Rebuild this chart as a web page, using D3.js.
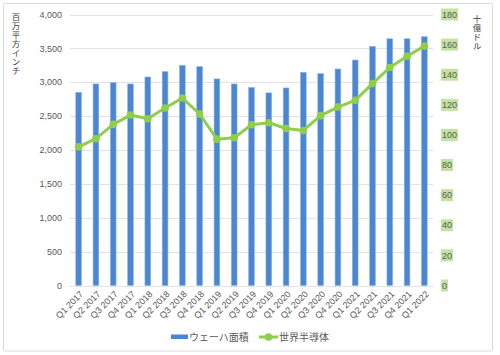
<!DOCTYPE html>
<html><head><meta charset="utf-8">
<script src="https://cdn.jsdelivr.net/npm/d3@7"></script>
<style>body{margin:0;background:#fff}svg{display:block}</style>
</head><body>
<svg id="c" width="500" height="355"></svg>
<script>
const categories = ["Q1 2017","Q2 2017","Q3 2017","Q4 2017","Q1 2018","Q2 2018","Q3 2018","Q4 2018","Q1 2019","Q2 2019","Q3 2019","Q4 2019","Q1 2020","Q2 2020","Q3 2020","Q4 2020","Q1 2021","Q2 2021","Q3 2021","Q4 2021","Q1 2022"];
const waferArea = [2850,2975,2995,2975,3078,3157,3250,3230,3049,2975,2922,2843,2916,3147,3127,3196,3328,3529,3642,3642,3672];
const semis = [92.1,97.5,107,113.2,110.8,117.9,124.5,113.9,97.2,98.1,106.8,108.1,104.3,103,112.8,118.5,123,134.1,144.8,152.3,159];
const leftTicks = [0,500,1000,1500,2000,2500,3000,3500,4000];
const rightTicks = [0,20,40,60,80,100,120,140,160,180];
const seriesNames = ["ウェーハ面積","世界半導体"];
const leftTitle = "百万平方インチ";
const rightTitle = "十億ドル";

const svg = d3.select("#c");
const font = "'Liberation Sans', Arial, sans-serif";
const jfont = "'Noto Sans CJK JP', sans-serif";
const barColor = "#4a86d2", lineColor = "#8fce4a", txt = "#595959";

svg.append("rect").attr("x",3.5).attr("y",3.5).attr("width",489).attr("height",347.5)
  .attr("fill","#fff").attr("stroke","#d9d9d9").attr("rx",2);

const x0 = 70, x1 = 433, yTop = 14.5, yBot = 285.5;
const x = d3.scaleBand().domain(categories).range([x0,x1]).paddingInner(0.67).paddingOuter(0.335);
const xc = d3.scaleBand().domain(categories).range([x0,x1]);
const yL = d3.scaleLinear().domain([0,4000]).range([yBot,yTop]);
const yR = d3.scaleLinear().domain([0,180]).range([yBot,yTop]);

// grid
svg.append("g").selectAll("line").data(leftTicks).join("line")
  .attr("x1",x0).attr("x2",x1).attr("y1",d=>Math.round(yL(d))+0.5).attr("y2",d=>Math.round(yL(d))+0.5)
  .attr("stroke","#e3e3e3").attr("stroke-width",1);

// left axis labels
svg.append("g").selectAll("text").data(leftTicks).join("text")
  .attr("x",62).attr("y",d=>yL(d)).attr("dy","0.35em").attr("text-anchor","end")
  .attr("font-family",font).attr("font-size",9).attr("fill",txt).text(d=>d3.format(",")(d));

// right axis labels with green highlight
const rg = svg.append("g").selectAll("g").data(rightTicks).join("g")
  .attr("transform",d=>`translate(442,${yR(d)})`);
rg.append("rect").attr("x",-1).attr("y",-6).attr("height",12)
  .attr("width",d=>String(d).length*5+2).attr("fill","#c4e3a2");
rg.append("text").attr("x",0).attr("dy","0.35em").attr("font-family",font).attr("font-size",9)
  .attr("fill",txt).text(d=>d);

// bars
svg.append("g").selectAll("rect").data(waferArea).join("rect")
  .attr("x",(d,i)=>x(categories[i])).attr("width",x.bandwidth())
  .attr("y",d=>yL(d)).attr("height",d=>yBot-yL(d))
  .attr("fill",barColor).attr("stroke","#8db4e6").attr("stroke-width",0.6);

// line
const line = d3.line().x((d,i)=>xc(categories[i])+xc.bandwidth()/2).y(d=>yR(d));
svg.append("path").datum(semis).attr("d",line).attr("fill","none")
  .attr("stroke",lineColor).attr("stroke-width",3).attr("stroke-linejoin","round");
svg.append("g").selectAll("circle").data(semis).join("circle")
  .attr("cx",(d,i)=>xc(categories[i])+xc.bandwidth()/2).attr("cy",d=>yR(d)).attr("r",3.8)
  .attr("fill",lineColor);

// x labels
svg.append("g").selectAll("text").data(categories).join("text")
  .attr("transform",d=>`translate(${xc(d)+xc.bandwidth()/2+3},${yBot+7}) rotate(-45)`)
  .attr("text-anchor","end").attr("dy","0.35em")
  .attr("font-family",font).attr("font-size",9).attr("fill",txt).text(d=>d);

// vertical titles (vertical writing mode, upright glyphs)
svg.append("text").attr("x",16).attr("y",13).attr("font-family",jfont).attr("font-size",8.5)
  .attr("fill","#404040").style("writing-mode","vertical-rl").style("text-orientation","upright")
  .style("letter-spacing","0.4px").text(leftTitle);
svg.append("text").attr("x",477).attr("y",15).attr("font-family",jfont).attr("font-size",8.5)
  .attr("fill","#404040").style("writing-mode","vertical-rl").style("text-orientation","upright")
  .style("letter-spacing","0.4px").text(rightTitle);

// legend
const lg = svg.append("g");
lg.append("rect").attr("x",171).attr("y",334.5).attr("width",17).attr("height",4.5).attr("fill",barColor);
lg.append("text").attr("x",189).attr("y",337).attr("dy","0.35em").attr("font-family",jfont)
  .attr("font-size",10).attr("fill",txt).text(seriesNames[0]);
lg.append("line").attr("x1",259).attr("x2",278).attr("y1",337).attr("y2",337)
  .attr("stroke",lineColor).attr("stroke-width",3);
lg.append("circle").attr("cx",268.5).attr("cy",337).attr("r",3.8).attr("fill",lineColor);
lg.append("text").attr("x",279).attr("y",337).attr("dy","0.35em").attr("font-family",jfont)
  .attr("font-size",10).attr("fill",txt).text(seriesNames[1]);
</script>
</body></html>
